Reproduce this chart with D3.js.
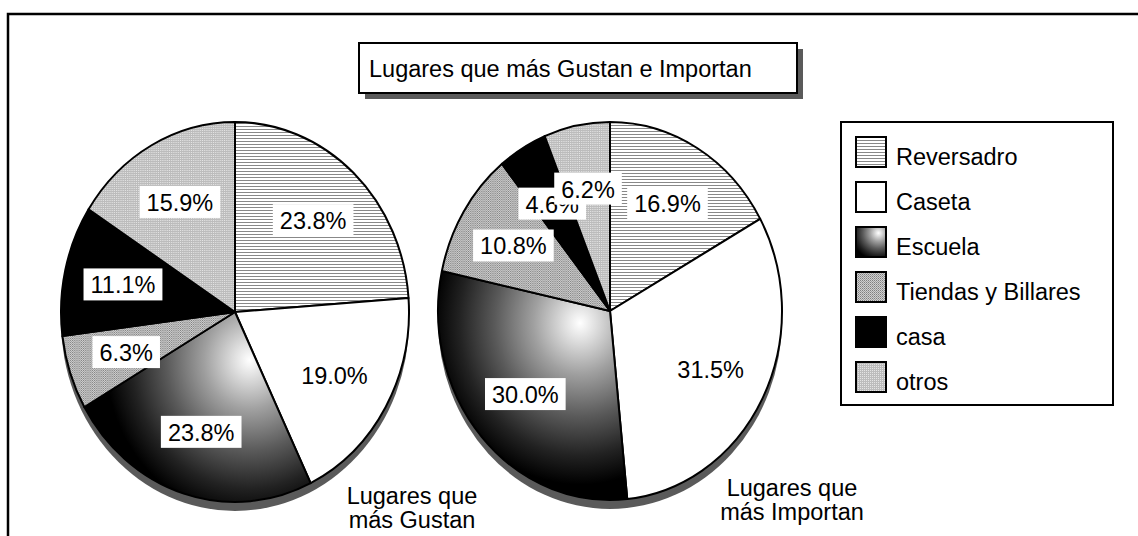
<!DOCTYPE html>
<html>
<head>
<meta charset="utf-8">
<script src="https://cdn.jsdelivr.net/npm/d3@7"></script>
<style>
  body { margin: 0; background: #fff; }
  svg { display: block; }
  text { font-family: Arial, "Liberation Sans", sans-serif; font-size: 23.5px; fill: #000; }
</style>
</head>
<body>
<svg id="chart" width="1138" height="536"></svg>
<script>
var chartTitle = "Lugares que más Gustan e Importan";
var categories = ["Reversadro", "Caseta", "Escuela", "Tiendas y Billares", "casa", "otros"];
var gustan = [23.8, 19.0, 23.8, 6.3, 11.1, 15.9];
var importan = [16.9, 31.5, 30.0, 10.8, 4.6, 6.2];
var pieNames = [["Lugares que", "más Gustan"], ["Lugares que", "más Importan"]];

var svg = d3.select("#chart");
var defs = svg.append("defs");

// fill patterns
var p = defs.append("pattern").attr("id", "hlines")
    .attr("patternUnits", "userSpaceOnUse").attr("width", 4).attr("height", 3);
p.append("rect").attr("width", 4).attr("height", 3).attr("fill", "#fff");
p.append("rect").attr("width", 4).attr("height", 1).attr("fill", "#888");

p = defs.append("pattern").attr("id", "dots1")
    .attr("patternUnits", "userSpaceOnUse").attr("width", 2).attr("height", 2);
p.append("rect").attr("width", 2).attr("height", 2).attr("fill", "#d0d0d0");
p.append("rect").attr("width", 1).attr("height", 1).attr("fill", "#808080");
p.append("rect").attr("x", 1).attr("y", 1).attr("width", 1).attr("height", 1).attr("fill", "#a0a0a0");

p = defs.append("pattern").attr("id", "dots2")
    .attr("patternUnits", "userSpaceOnUse").attr("width", 2).attr("height", 2);
p.append("rect").attr("width", 2).attr("height", 2).attr("fill", "#bcbcbc");
p.append("rect").attr("width", 1).attr("height", 1).attr("fill", "#e4e4e4");

function radial(id, cx, cy, r, units)
{
    var g = defs.append("radialGradient").attr("id", id)
        .attr("cx", cx).attr("cy", cy).attr("r", r).attr("fx", cx).attr("fy", cy)
        .attr("gradientUnits", units);
    [[0, "#ffffff"], [0.1, "#e0e0e0"], [0.3, "#a0a0a0"], [0.55, "#5a5a5a"], [0.78, "#222"], [0.95, "#000"], [1, "#000"]]
        .forEach(function(s){ g.append("stop").attr("offset", s[0]).attr("stop-color", s[1]); });
}
radial("grad0", 16, 48, 165, "userSpaceOnUse");
radial("grad1", -33, 12, 170, "userSpaceOnUse");
radial("gradLeg", 0.75, 0.2, 0.95, "objectBoundingBox");

function fillFor(i, pieIndex)
{
    return ["url(#hlines)", "#fff", "url(#grad" + pieIndex + ")", "url(#dots1)", "#000", "url(#dots2)"][i];
}

// outer frame
svg.append("rect").attr("x", 8).attr("y", 14).attr("width", 1150).attr("height", 560)
    .attr("fill", "#fff").attr("stroke", "#000").attr("stroke-width", 2.5);

// title box
svg.append("rect").attr("x", 365).attr("y", 49).attr("width", 438).attr("height", 50).attr("fill", "#5a5a5a");
svg.append("rect").attr("x", 359).attr("y", 43).attr("width", 438).attr("height", 50)
    .attr("fill", "#fff").attr("stroke", "#000").attr("stroke-width", 2);
svg.append("text").attr("x", 369).attr("y", 77).text(chartTitle);

var pies = [
    { values: gustan, cx: 235, cy: 312, rx: 174, ry: 190, name: pieNames[0], nx: 412, ny: 504 },
    { values: importan, cx: 610, cy: 311, rx: 172, ry: 189, name: pieNames[1], nx: 792, ny: 496 }
];

var fmt = d3.format(".1f");
var pie = d3.pie().sort(null).value(function(d){ return d.v; });

pies.forEach(function(P, k)
{
    var data = pie(P.values.map(function(v, i){ return { v: v, i: i }; }));
    var arc = d3.arc().innerRadius(0).outerRadius(P.ry);
    var labelArc = d3.arc().innerRadius(P.ry * 0.66).outerRadius(P.ry * 0.66);
    var sx = P.rx / P.ry;

    // depth underneath
    svg.append("ellipse").attr("cx", P.cx).attr("cy", P.cy + 9)
        .attr("rx", P.rx).attr("ry", P.ry).attr("fill", "#5a5a5a");

    var g = svg.append("g")
        .attr("transform", "translate(" + P.cx + "," + P.cy + ") scale(" + sx + ",1)");
    g.selectAll("path").data(data).enter().append("path")
        .attr("d", arc)
        .attr("fill", function(d){ return fillFor(d.data.i, k); })
        .attr("stroke", "#000").attr("stroke-width", 2)
        .attr("stroke-linejoin", "round")
        .attr("vector-effect", "non-scaling-stroke");

    data.forEach(function(d)
    {
        var c = labelArc.centroid(d);
        var x = P.cx + c[0] * sx, y = P.cy + c[1];
        var t = svg.append("text").attr("x", x).attr("y", y + 9)
            .attr("text-anchor", "middle").text(fmt(d.data.v) + "%");
        var w = t.node().getComputedTextLength() + 14;
        svg.insert("rect", function(){ return t.node(); })
            .attr("x", x - w/2).attr("y", y - 16).attr("width", w).attr("height", 32)
            .attr("fill", "#fff");
    });

    P.name.forEach(function(line, j)
    {
        svg.append("text").attr("x", P.nx).attr("y", P.ny + j * 24)
            .attr("text-anchor", "middle").text(line);
    });
});

// legend
svg.append("rect").attr("x", 841).attr("y", 122).attr("width", 272).attr("height", 283)
    .attr("fill", "#fff").attr("stroke", "#000").attr("stroke-width", 2);
var leg = svg.selectAll(".leg").data(categories).enter().append("g").attr("class", "leg")
    .attr("transform", function(d, i){ return "translate(856," + (137 + 45*i) + ")"; });
leg.append("rect").attr("width", 30).attr("height", 30)
    .attr("fill", function(d, i){ return i == 2 ? "url(#gradLeg)" : fillFor(i, 0); })
    .attr("stroke", "#000").attr("stroke-width", 2);
leg.append("text").attr("x", 40).attr("y", 28).text(function(d){ return d; });
</script>
</body>
</html>
